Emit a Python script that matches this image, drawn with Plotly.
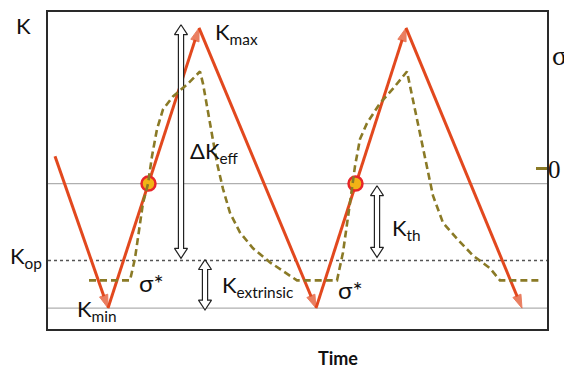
import plotly.graph_objects as go

# ---------------- data (time in arbitrary units, K in arbitrary units) ----------------
k_time = [0.14, 1.20, 3.02, 5.36, 7.16, 9.48]
k_vals = [5.88, 1.00, 10.00, 1.00, 10.00, 1.00]

# stress sigma (right axis), dashed curve
s_time = [0.82, 1.64, 1.74, 1.90, 2.00, 2.08, 2.18, 2.30, 2.50, 2.78, 3.04,
          3.10, 3.24, 3.38, 3.50, 3.64, 3.84, 4.10, 4.44, 4.78, 4.98,
          5.78, 5.90, 6.04, 6.14, 6.24, 6.38, 6.64, 6.90, 7.18,
          7.30, 7.44, 7.58, 7.70, 7.90, 8.18, 8.50, 8.84, 9.04, 9.84]
s_vals = [-3.58, -3.58, -2.87, -1.09, -0.48, 0.41, 1.28, 1.91, 2.33, 2.71, 3.13,
          2.74, 1.47, 0.19, -0.64, -1.41, -2.04, -2.55, -3.00, -3.35, -3.58,
          -3.58, -2.68, -1.09, 0.09, 0.96, 1.47, 2.11, 2.58, 3.13,
          2.23, 1.15, 0.09, -0.86, -1.73, -2.24, -2.78, -3.19, -3.58, -3.58]

# crack-closure points (K at sigma = 0 crossing line)
open_time = [2.01, 6.15]
open_k = [5.0, 5.0]

# reference K levels
K_MIN = 1.0
K_OP = 2.53
K_CL = 5.0

# double arrows: x, lower K, upper K
arrow_x = [2.66, 3.14, 6.58]
arrow_lo = [2.60, 0.94, 2.63]
arrow_hi = [10.10, 2.56, 4.93]

X_RANGE = [0.0, 9.98]
Y_RANGE = [0.33, 10.51]
S_RANGE = [-5.14, 5.04]

RED = "#E2481E"
OLIVE = "#8A7A26"

fig = go.Figure()

# dashed sigma curve
fig.add_trace(go.Scatter(x=s_time, y=s_vals, yaxis="y2", mode="lines",
                         line=dict(color=OLIVE, width=2.6, dash="7px,4px"),
                         hoverinfo="skip", showlegend=False))

# K sawtooth with arrowheads
fig.add_trace(go.Scatter(x=k_time, y=k_vals, mode="lines+markers",
                         line=dict(color=RED, width=3),
                         marker=dict(symbol="arrow", angleref="previous",
                                     size=[0] + [14] * (len(k_time) - 1),
                                     color=RED, line=dict(color=RED, width=1)),
                         hoverinfo="skip", showlegend=False))

# opening points
fig.add_trace(go.Scatter(x=open_time, y=open_k, mode="markers",
                         marker=dict(symbol="circle", size=14, color="#F2B316",
                                     line=dict(color="#E8262A", width=2.5)),
                         hoverinfo="skip", showlegend=False))

# hollow double arrows (head sizes from pixel scale)
px_x = (X_RANGE[1] - X_RANGE[0]) / 499.0
px_y = (Y_RANGE[1] - Y_RANGE[0]) / 319.0
hw, sw, hl = 6.5 * px_x, 2.6 * px_x, 10 * px_y
for x, lo, hi in zip(arrow_x, arrow_lo, arrow_hi):
    xs = [x, x + hw, x + sw, x + sw, x + hw, x, x - hw, x - sw, x - sw, x - hw, x]
    ys = [hi, hi - hl, hi - hl, lo + hl, lo + hl, lo, lo + hl, lo + hl, hi - hl, hi - hl, hi]
    fig.add_trace(go.Scatter(x=xs, y=ys, mode="lines", fill="toself",
                             fillcolor="white", line=dict(color="#222", width=1.2),
                             hoverinfo="skip", showlegend=False))

# horizontal reference lines
fig.add_shape(type="line", xref="paper", x0=0, x1=1, y0=K_CL, y1=K_CL,
              line=dict(color="#AFAFAF", width=1.3), layer="below")
fig.add_shape(type="line", xref="paper", x0=0, x1=1, y0=K_MIN, y1=K_MIN,
              line=dict(color="#AFAFAF", width=1.3), layer="below")
fig.add_shape(type="line", xref="paper", x0=0, x1=1, y0=K_OP, y1=K_OP,
              line=dict(color="#555555", width=1.3, dash="dot"), layer="below")

SANS = "Lato"
lab = dict(family=SANS, size=22, color="#111")
sig = dict(family=SANS, size=24, color="#111")
annos = [
    dict(text="K<sub>max</sub>", x=3.30, y=9.84, xanchor="left", yanchor="middle", font=lab),
    dict(text="ΔK<sub>eff</sub>", x=2.80, y=6.01, xanchor="left", yanchor="middle", font=lab),
    dict(text="K<sub>min</sub>", x=0.54, y=0.94, xanchor="left", yanchor="middle", font=lab),
    dict(text="K<sub>extrinsic</sub>", x=3.44, y=1.70, xanchor="left", yanchor="middle", font=lab),
    dict(text="K<sub>th</sub>", x=6.84, y=3.55, xanchor="left", yanchor="middle", font=lab),
    dict(text="σ*", x=2.06, y=1.83, xanchor="center", yanchor="middle", font=sig),
    dict(text="σ*", x=6.04, y=1.61, xanchor="center", yanchor="middle", font=sig),
]
for a in annos:
    fig.add_annotation(xref="x", yref="y", showarrow=False, **a)

# labels outside the plotting area (paper coordinates)
fig.add_annotation(xref="paper", yref="paper", x=-0.050, y=0.956, text="K",
                   showarrow=False, font=lab, xanchor="center", yanchor="middle")
fig.add_annotation(xref="paper", yref="paper", x=-0.080, y=0.226, text="K<sub>op</sub>",
                   showarrow=False, font=lab, xanchor="left", yanchor="middle")
fig.add_annotation(xref="paper", yref="paper", x=1.026, y=0.862, text="σ", showarrow=False,
                   font=dict(family="Liberation Serif", size=28, color="#111"),
                   xanchor="center", yanchor="middle")
fig.add_annotation(xref="paper", yref="paper", x=0.581, y=-0.091, text="<b>Time</b>",
                   showarrow=False, font=dict(family=SANS, size=18, color="#111"),
                   xanchor="center", yanchor="middle")

# the page body adds an 8px offset; margins keep the frame at 48..547 x 10..329
fig.update_layout(
    width=572, height=369,
    margin=dict(l=40, r=33, t=2, b=48),
    paper_bgcolor="white", plot_bgcolor="white",
    xaxis=dict(range=X_RANGE, showgrid=False, zeroline=False, showticklabels=False,
               ticks="", showline=True, mirror=True, linecolor="#2a2a2a", linewidth=2),
    yaxis=dict(range=Y_RANGE, showgrid=False, zeroline=False, showticklabels=False,
               ticks="", showline=True, mirror=True, linecolor="#2a2a2a", linewidth=2),
    yaxis2=dict(range=S_RANGE, overlaying="y", side="right", showgrid=False,
                zeroline=False, showline=False, tickvals=[0], ticktext=["0"],
                ticks="inside", ticklen=11, tickwidth=3, tickcolor=OLIVE,
                tickfont=dict(family="Liberation Serif", size=25, color="#111")),
    showlegend=False,
)

fig.write_html("out.html")
